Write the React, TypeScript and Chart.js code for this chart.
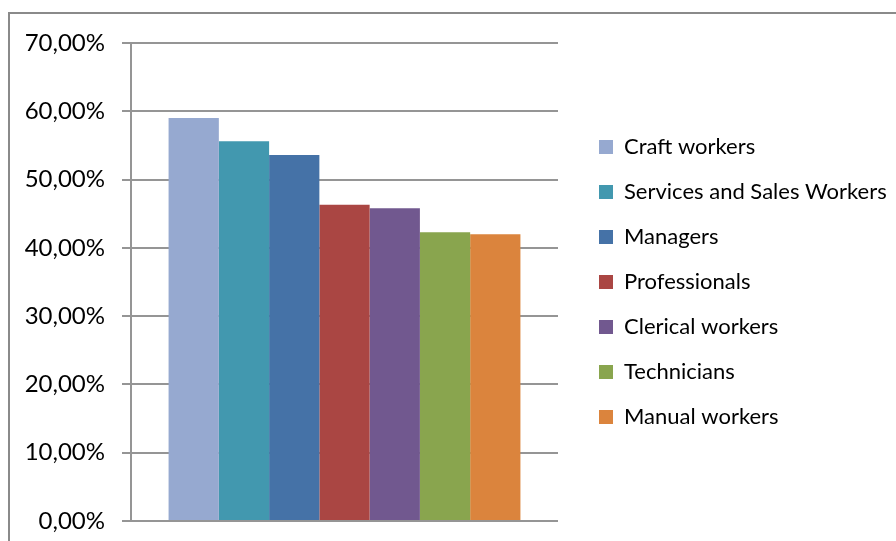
import React, { useEffect, useRef } from "react";
import { Chart, registerables } from "chart.js";

Chart.register(...registerables);

const categories = [""];
const seriesNames = [
  "Craft workers",
  "Services and Sales Workers",
  "Managers",
  "Professionals",
  "Clerical workers",
  "Technicians",
  "Manual workers",
];
const seriesValues = [59.0, 55.6, 53.6, 46.3, 45.8, 42.3, 42.0];
const seriesColors = ["#96A9D0", "#4298AF", "#4572A7", "#AA4643", "#71588F", "#89A54E", "#DB843D"];
const yTickLabels = ["0,00%", "10,00%", "20,00%", "30,00%", "40,00%", "50,00%", "60,00%", "70,00%"];

const GRID = "#959595";

export default function App() {
  const ref = useRef<HTMLCanvasElement | null>(null);
  useEffect(() => {
    if (!ref.current) return;
    const chart = new Chart(ref.current, {
      type: "bar",
      data: {
        labels: categories,
        datasets: seriesNames.map((name, i) => ({
          label: name,
          data: [seriesValues[i]],
          backgroundColor: seriesColors[i],
          borderWidth: 0,
          barPercentage: 1,
          categoryPercentage: 0.824,
        })),
      },
      options: {
        responsive: false,
        animation: false,
        layout: { padding: { top: 43, bottom: 20, left: 0, right: 0 } },
        plugins: {
          tooltip: { enabled: false },
          legend: {
            position: "right",
            align: "center",
            maxWidth: 320,
            labels: {
              boxWidth: 14,
              boxHeight: 14,
              padding: 23,
              color: "#000",
              font: { family: "Lato, 'Noto Sans', sans-serif", size: 22 },
            },
          },
        },
        scales: {
          x: { display: false },
          y: {
            min: 0,
            max: 70,
            afterFit: (s: any) => {
              s.width = 131;
              s.paddingTop = 0;
              s.paddingBottom = 0;
            },
            ticks: {
              stepSize: 10,
              padding: 17,
              color: "#000",
              font: { family: "Lato, 'Noto Sans', sans-serif", size: 24 },
              callback: (_v: any, i: number) => yTickLabels[i],
            },
            grid: { color: GRID, lineWidth: 2, tickLength: 9, drawTicks: true },
            border: { display: true, color: GRID, width: 2 },
          },
          ySpacer: {
            type: "linear",
            position: "right",
            display: true,
            afterFit: (s: any) => {
              s.width = 18;
              s.paddingTop = 0;
              s.paddingBottom = 0;
            },
            ticks: { display: false },
            grid: { display: false, drawTicks: false },
            border: { display: false },
          },
        },
      },
    } as any);
    return () => chart.destroy();
  }, []);
  return (
    <div style={{ position: "fixed", left: 0, top: 0, width: 896, height: 541, overflow: "hidden", background: "#fff" }}>
      <div
        style={{
          position: "absolute",
          left: 8,
          top: 12,
          width: 1000,
          height: 700,
          borderTop: "2px solid #8a8a8a",
          borderLeft: "2px solid #8a8a8a",
        }}
      />
      <canvas ref={ref} width={896} height={541} style={{ position: "absolute", left: 0, top: 0, width: 896, height: 541 }} />
    </div>
  );
}
